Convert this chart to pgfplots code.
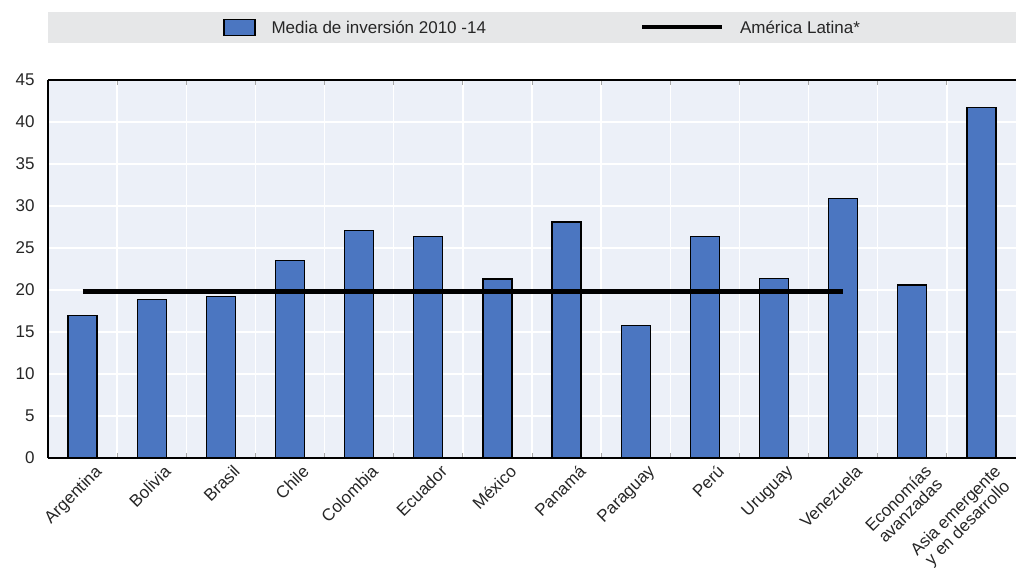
\documentclass[border=0pt]{standalone}
\usepackage{pgfplots}
\pgfplotsset{compat=1.18}
\usepackage{fontspec}
\setmainfont{Liberation Sans}
\definecolor{barblue}{HTML}{4B76C1}
\definecolor{plotbg}{HTML}{ECF0F8}
\definecolor{legbg}{HTML}{E6E7E8}
\definecolor{txt}{HTML}{262626}
\begin{document}
\begin{tikzpicture}[x=1pt,y=1pt]
\useasboundingbox (0,0) rectangle (1016,568);
\fill[legbg] (48,525) rectangle (1016,556);
\begin{axis}[
    at={(48pt,110pt)}, anchor=south west,
    scale only axis, width=968pt, height=378pt,
    xmin=-0.5, xmax=13.5, ymin=0, ymax=45,
    axis x line*=box, axis y line*=left,
    axis line style={black, line width=1.8pt},
    axis background/.style={fill=plotbg},
    /pgf/number format/assume math mode=true,
    ytick={0,5,...,45},
    xtick={0,...,13},
    xticklabels={Argentina, Bolivia, Brasil, Chile, Colombia, Ecuador, México,
        Panamá, Paraguay, Perú, Uruguay, Venezuela, {Economías\\avanzadas},
        {Asia emergente\\y en desarrollo}},
    minor xtick={0.5,1.5,...,12.5},
    major tick length=0pt,
    minor tick length=5pt,
    tick align=inside,
    minor tick style={gray!70, line width=1pt},
    xminorgrids, ymajorgrids,
    grid style={white, line width=1.5pt},
    minor grid style={white, line width=1.5pt},
    tick label style={font=\fontsize{17}{16}\selectfont, text=txt},
    y tick label style={xshift=-10pt},
    x tick label style={rotate=45, anchor=north east, align=center,
        font=\fontsize{17}{17}\selectfont, inner sep=0pt, xshift=4pt, yshift=-12pt},
    legend columns=2,
    legend style={at={(axis description cs:0.51,1)}, anchor=center, yshift=52.5pt,
        draw=none, fill=none, font=\fontsize{17}{16}\selectfont, text=txt,
        nodes={inner sep=0pt},
        /tikz/every even column/.append style={column sep=154pt},
        /tikz/every odd column/.append style={column sep=16pt}},
]
\addplot[ybar, bar width=29pt, fill=barblue, draw=black, line width=1.2pt,
    legend image code/.code={\draw[fill=barblue, draw=black, line width=1.2pt] (0pt,-8pt) rectangle (31pt,8pt);}]
coordinates {(0,17.0) (1,18.9) (2,19.2) (3,23.5) (4,27.1) (5,26.4) (6,21.3)
    (7,28.1) (8,15.8) (9,26.4) (10,21.4) (11,30.9) (12,20.6) (13,41.7)};
\addlegendentry{Media de inversión 2010 -14}
\addplot[black, line width=4.5pt,
    legend image code/.code={\draw[black, line width=4pt] (0pt,0pt) -- (80pt,0pt);}]
coordinates {(0,19.8) (11,19.8)};
\addlegendentry{América Latina*}
\end{axis}
\end{tikzpicture}
\end{document}
